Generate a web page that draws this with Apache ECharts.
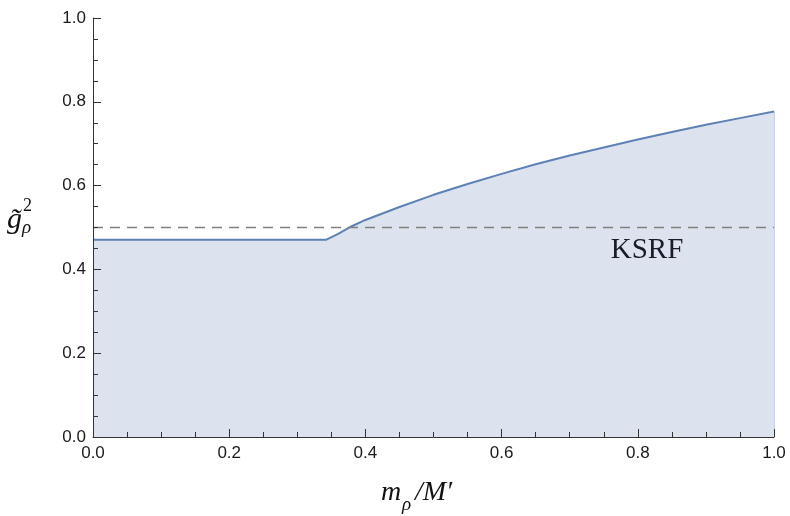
<!DOCTYPE html>
<html>
<head>
<meta charset="utf-8">
<script src="https://cdn.jsdelivr.net/npm/echarts@6/dist/echarts.min.js"></script>
<style>html,body{margin:0;padding:0;background:#fff;}#c{width:790px;height:516px;}</style>
</head>
<body>
<div id="c"></div>
<script>
// data
const xValues = [0, 0.342, 0.36, 0.38, 0.40, 0.45, 0.50, 0.55, 0.60, 0.65, 0.70, 0.75, 0.80, 0.85, 0.90, 0.95, 1.0];
const gValues = [0.4705, 0.4705, 0.485, 0.503, 0.518, 0.549, 0.578, 0.604, 0.628, 0.651, 0.672, 0.691, 0.710, 0.728, 0.745, 0.761, 0.777];
const ksrfX = [0, 1];
const ksrfY = [0.5, 0.5];
const ksrfLabel = 'KSRF';
const ksrfLabelPos = [0.8135, 0.446];
const xTicks = [0, 0.2, 0.4, 0.6, 0.8, 1.0];
const yTicks = [0, 0.2, 0.4, 0.6, 0.8, 1.0];

const chart = echarts.init(document.getElementById('c'), null, {renderer: 'canvas'});
const tickFont = {fontFamily: 'Liberation Sans, Arial, sans-serif', fontSize: 17, color: '#1a1a1a'};
const axisCommon = {
  type: 'value', min: 0, max: 1, interval: 0.2, z: 10,
  axisLine: {show: true, lineStyle: {color: '#333', width: 1}},
  axisTick: {show: true, inside: true, length: 8, lineStyle: {color: '#333', width: 1}},
  minorTick: {show: true, splitNumber: 4, length: 5, lineStyle: {color: '#333', width: 1}},
  splitLine: {show: false},
  minorSplitLine: {show: false}
};
const lastIdx = xValues.length - 1;
chart.setOption({
  animation: false,
  grid: {left: 93, right: 16, top: 18, bottom: 79, containLabel: false},
  xAxis: Object.assign({}, axisCommon, {
    axisLabel: Object.assign({}, tickFont, {margin: 8, formatter: v => xTicks.includes(+v.toFixed(1)) ? v.toFixed(1) : ''})
  }),
  yAxis: Object.assign({}, axisCommon, {
    axisLabel: Object.assign({}, tickFont, {margin: 7, formatter: v => yTicks.includes(+v.toFixed(1)) ? v.toFixed(1) : ''})
  }),
  series: [
    {
      type: 'line',
      data: xValues.map((x, i) => [x, gValues[i]]),
      showSymbol: false,
      smooth: false,
      lineStyle: {color: '#5E81B5', width: 2},
      itemStyle: {color: '#5E81B5'},
      areaStyle: {color: '#dde3ee', opacity: 1, origin: 'start'},
      z: 2,
      markLine: {
        symbol: 'none', silent: true, label: {show: false},
        lineStyle: {color: 'rgba(94,129,181,0.35)', width: 1, type: 'solid'},
        data: [[{coord: [xValues[lastIdx], 0]}, {coord: [xValues[lastIdx], gValues[lastIdx]]}]]
      }
    },
    {
      type: 'line',
      data: ksrfX.map((x, i) => [x, ksrfY[i]]),
      showSymbol: false,
      lineStyle: {color: '#808080', width: 1.6, type: [10, 7]},
      z: 3,
      markPoint: {
        symbolSize: 0,
        data: [{coord: ksrfLabelPos, value: ksrfLabel}],
        label: {show: true, formatter: ksrfLabel, position: 'inside', fontFamily: 'Liberation Serif, serif', fontSize: 29, color: '#1a1a2a'}
      }
    }
  ],
  graphic: [
    {type: 'text', left: 7, top: 205, style: {text: 'g\u0303', font: 'italic 30px "Liberation Serif", serif', fill: '#111'}},
    {type: 'text', left: 23, top: 197, style: {text: '2', font: '18px "Liberation Serif", serif', fill: '#111'}},
    {type: 'text', left: 22, top: 218, style: {text: '\u03c1', font: 'italic 19px "Liberation Serif", serif', fill: '#111'}},
    {type: 'text', left: 381, top: 479, style: {text: 'm', font: 'italic 28px "Liberation Serif", serif', fill: '#111'}},
    {type: 'text', left: 402, top: 495, style: {text: '\u03c1', font: 'italic 19px "Liberation Serif", serif', fill: '#111'}},
    {type: 'text', left: 415, top: 479, style: {text: '/M\u2032', font: 'italic 28px "Liberation Serif", serif', fill: '#111'}}
  ]
});
</script>
</body>
</html>
